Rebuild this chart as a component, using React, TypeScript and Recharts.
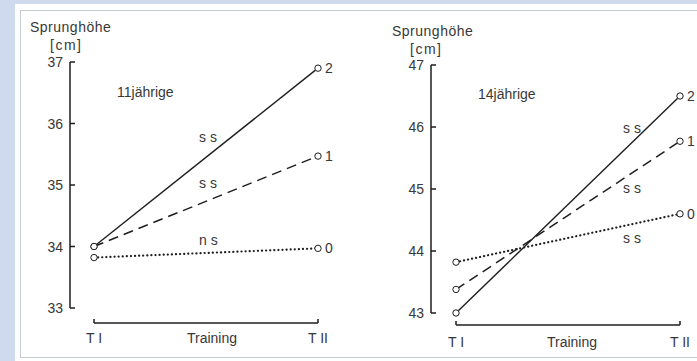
import { LineChart, Line, XAxis, YAxis, ReferenceLine, LabelList } from 'recharts';

// Zeitpunkte (x) und Gruppen
const timePoints = ['T I', 'T II'];
const groupNames = ['2', '1', '0'];

// 11jährige
const solid11 = [34.0, 36.9];
const dashed11 = [34.0, 35.47];
const dotted11 = [33.82, 33.97];
const yTicks11 = [33, 34, 35, 36, 37];
const sig11 = ['s s', 's s', 'n s'];

// 14jährige
const solid14 = [43.0, 46.5];
const dashed14 = [43.38, 45.77];
const dotted14 = [43.82, 44.6];
const yTicks14 = [43, 44, 45, 46, 47];
const sig14 = ['s s', 's s', 's s'];

const INK = '#1e1e1e';
const TEXT = '#383838';
const FONT = '"Liberation Sans", Arial, sans-serif';

const buildRows = (s2: number[], s1: number[], s0: number[]) =>
  timePoints.map((t, i) => ({ t: i, name: t, s2: s2[i], s1: s1[i], s0: s0[i] }));

const HollowDot = ({ cx, cy, index }: any) => (
  <circle key={`d-${index}`} cx={cx} cy={cy} r={3.2} fill="#fff" stroke={INK} strokeWidth={1} />
);

const YTick = ({ x, y, payload }: any) => (
  <g>
    <line x1={x} y1={y} x2={x + 5} y2={y} stroke={INK} strokeWidth={1.5} />
    <text x={x - 7} y={y} dy={5} textAnchor="end" fontSize={14} fill={TEXT} fontFamily={FONT}>
      {payload.value}
    </text>
  </g>
);

const makeXTick = (gap: number, textGap: number) => ({ x, y, payload }: any) => (
  <g>
    <line x1={x} y1={y + gap - 4} x2={x} y2={y + gap} stroke={INK} strokeWidth={1.5} />
    <text x={x} y={y + textGap} dy={5} textAnchor="middle" fontSize={14} fill={TEXT} fontFamily={FONT}>
      {timePoints[payload.value]}
    </text>
  </g>
);

// Gruppenname rechts neben dem Endpunkt
const endLabel = (name: string) => (props: any) => {
  const { x, y, index } = props;
  if (index !== 1) return null;
  return (
    <text x={x + 7} y={y} dy={5} fontSize={14} fill={TEXT} fontFamily={FONT}>
      {name}
    </text>
  );
};

interface PanelProps {
  left: number;
  width: number;
  margin: { top: number; right: number; bottom: number; left: number };
  padLeft: number;
  yTicks: number[];
  rows: any[];
  gap: number;
  textGap: number;
}

function Panel({ left, width, margin, padLeft, yTicks, rows, gap, textGap }: PanelProps) {
  const height = 361;
  const plotH = height - margin.top - margin.bottom - 30;
  const lo = yTicks[0];
  const hi = yTicks[yTicks.length - 1];
  const bracketY = lo - (gap * (hi - lo)) / plotH;

  return (
    <div style={{ position: 'absolute', left, top: 0 }}>
      <LineChart width={width} height={height} data={rows} margin={margin}>
        <XAxis
          type="number"
          dataKey="t"
          domain={[0, 1]}
          ticks={[0, 1]}
          padding={{ left: padLeft, right: 0 }}
          axisLine={false}
          tickLine={false}
          tickSize={0}
          tickMargin={0}
          height={30}
          tick={makeXTick(gap, textGap)}
        />
        <YAxis
          type="number"
          domain={[lo, hi]}
          ticks={yTicks}
          width={30}
          tickLine={false}
          tickSize={0}
          tickMargin={0}
          axisLine={{ stroke: INK, strokeWidth: 1.5 }}
          tick={<YTick />}
        />
        {/* Klammer unter der x-Achse */}
        <ReferenceLine
          segment={[{ x: 0, y: bracketY }, { x: 1, y: bracketY }]}
          ifOverflow="visible"
          stroke={INK}
          strokeWidth={1.5}
        />

        <Line
          dataKey="s0"
          stroke={INK}
          strokeWidth={2.2}
          strokeDasharray="0.1 4"
          strokeLinecap="round"
          dot={HollowDot}
          activeDot={false}
          isAnimationActive={false}
        >
          <LabelList dataKey="s0" content={endLabel(groupNames[2])} />
        </Line>
        <Line
          dataKey="s1"
          stroke={INK}
          strokeWidth={1.5}
          strokeDasharray="10 6"
          dot={HollowDot}
          activeDot={false}
          isAnimationActive={false}
        >
          <LabelList dataKey="s1" content={endLabel(groupNames[1])} />
        </Line>
        <Line
          dataKey="s2"
          stroke={INK}
          strokeWidth={1.4}
          dot={HollowDot}
          activeDot={false}
          isAnimationActive={false}
        >
          <LabelList dataKey="s2" content={endLabel(groupNames[0])} />
        </Line>
      </LineChart>
    </div>
  );
}

const Txt = ({ x, y, size = 14, center = false, spacing = 0, children }: any) => (
  <div
    style={{
      position: 'absolute',
      left: x,
      top: y - 7,
      lineHeight: '14px',
      fontSize: size,
      fontFamily: FONT,
      color: TEXT,
      letterSpacing: spacing,
      whiteSpace: 'pre',
      transform: center ? 'translateX(-50%)' : undefined,
    }}
  >
    {children}
  </div>
);

export default function App() {
  return (
    <div
      style={{
        position: 'absolute',
        left: 0,
        top: 0,
        width: 697,
        height: 361,
        overflow: 'hidden',
        background: '#cfdaef',
      }}
    >
      <div style={{ position: 'absolute', left: 15, top: 4, right: 0, bottom: 0, background: '#fff' }} />
      <div
        style={{
          position: 'absolute',
          left: 20,
          top: 10,
          width: 690,
          height: 346,
          border: '1px solid #c3ccd3',
        }}
      />

      <Panel
        left={0}
        width={350}
        margin={{ top: 62, right: 32, bottom: 23, left: 40 }}
        padLeft={24}
        yTicks={yTicks11}
        rows={buildRows(solid11, dashed11, dotted11)}
        gap={15}
        textGap={30}
      />
      <Panel
        left={350}
        width={347}
        margin={{ top: 65, right: 17, bottom: 18, left: 51 }}
        padLeft={25}
        yTicks={yTicks14}
        rows={buildRows(solid14, dashed14, dotted14)}
        gap={12}
        textGap={29}
      />

      {/* Beschriftungen links */}
      <Txt x={30} y={27} spacing={0.5}>Sprunghöhe</Txt>
      <Txt x={50} y={45} spacing={1.5}>[cm]</Txt>
      <Txt x={117} y={92}>11jährige</Txt>
      <Txt x={199} y={137}>{sig11[0]}</Txt>
      <Txt x={199} y={183}>{sig11[1]}</Txt>
      <Txt x={199} y={240}>{sig11[2]}</Txt>
      <Txt x={212} y={338} center>Training</Txt>

      {/* Beschriftungen rechts */}
      <Txt x={392} y={31} spacing={0.5}>Sprunghöhe</Txt>
      <Txt x={410} y={49} spacing={1.5}>[cm]</Txt>
      <Txt x={478} y={94}>14jährige</Txt>
      <Txt x={623} y={128}>{sig14[0]}</Txt>
      <Txt x={623} y={188}>{sig14[1]}</Txt>
      <Txt x={623} y={238}>{sig14[2]}</Txt>
      <Txt x={572} y={342} center>Training</Txt>
    </div>
  );
}
